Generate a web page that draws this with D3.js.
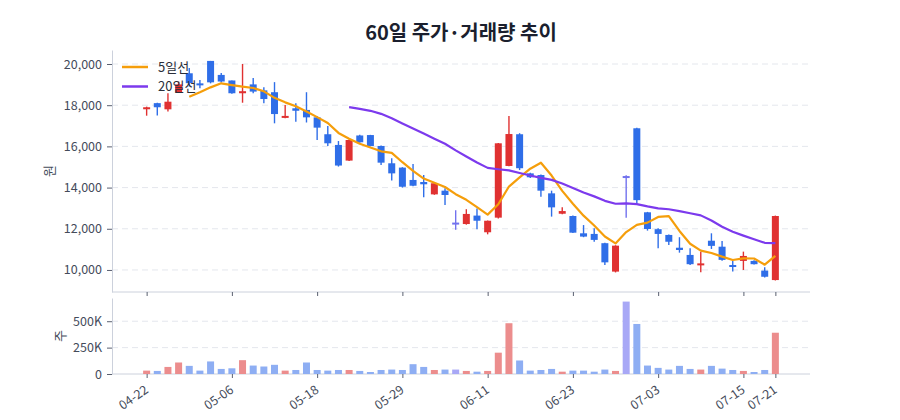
<!DOCTYPE html>
<html><head><meta charset="utf-8">
<script src="https://cdn.jsdelivr.net/npm/d3@7/dist/d3.min.js"></script>
<style>
html,body{margin:0;padding:0;background:#fff;}
svg{display:block;font-family:"Noto Sans CJK KR","Noto Sans",sans-serif;}
</style></head>
<body><svg id="c" width="900" height="420"></svg>
<script>
const dates = ["04-22","04-23","04-24","04-25","04-28","04-29","04-30","05-02","05-06","05-07",
"05-08","05-09","05-12","05-13","05-14","05-15","05-18","05-19","05-20","05-21",
"05-22","05-23","05-26","05-27","05-29","05-30","06-02","06-03","06-04","06-05",
"06-09","06-10","06-11","06-12","06-13","06-16","06-17","06-18","06-19","06-20",
"06-23","06-24","06-25","06-26","06-27","06-30","07-01","07-02","07-03","07-04",
"07-07","07-08","07-09","07-10","07-11","07-14","07-15","07-16","07-17","07-21"];
const tickDates = ["04-22","05-06","05-18","05-29","06-11","06-23","07-03","07-15","07-21"];
const openP = [17850,18100,17800,18620,19550,19060,20150,19470,19200,18580,
19010,18720,18630,17400,17850,17770,17410,16590,16070,15310,
16530,16550,16020,15180,14970,14370,14270,13670,13850,12300,
12230,12640,11830,12540,15050,16590,14690,14610,13720,12730,
12620,11780,11750,11300,9920,14560,16880,12800,11980,11700,
11080,10730,10230,11420,11130,10240,10440,10440,9970,9510];
const closeP = [17900,17900,18170,19010,19070,18970,19110,19150,18580,18680,
18660,18300,17570,17480,17730,17410,16910,16150,15070,16310,
16200,16020,15210,14690,14040,14090,14160,14210,13640,12300,
12720,12390,12390,16150,16600,14940,14500,13850,13040,12860,
11810,11620,11460,10370,11180,14560,13390,11990,11750,11370,
10970,10280,10320,11170,10490,10160,10680,10280,9670,12620];
const highP = [17930,18120,18580,19150,19800,19220,20150,19560,19200,20000,
19320,18870,19120,18010,18100,18630,17480,16990,16260,16330,
16560,16560,16040,15420,14990,15150,14610,14230,13970,12900,
12950,12990,12400,16160,17480,16640,14720,14630,13850,13040,
12640,12180,12020,11320,11200,14600,16900,12820,12020,11720,
11590,11050,10890,11780,11410,10440,10890,10470,10130,12640];
const lowP = [17490,17500,17690,18620,18910,18820,19060,19100,18550,18120,
18580,18090,17120,17370,17200,17160,16310,16020,15020,15290,
16180,16000,15100,14340,14000,14060,13530,13650,13160,11950,
12200,11980,11730,12500,15030,14850,14460,13560,12590,12700,
11790,11590,11370,10240,9880,12540,13240,11910,11050,11210,
10840,10240,9890,11020,10450,9920,10000,10260,9630,9490];
const volume = [32000,29000,67000,109000,77000,32000,119000,48000,54000,131000,
80000,71000,87000,32000,38000,109000,38000,32000,38000,38000,
29000,19000,38000,42000,38000,93000,67000,38000,42000,42000,
29000,22000,29000,202000,481000,128000,32000,38000,48000,22000,
32000,32000,22000,42000,29000,686000,474000,80000,58000,42000,
77000,48000,42000,77000,51000,38000,29000,19000,38000,391000];
const priceTicks = [10000,12000,14000,16000,18000,20000];
const volTicks = [0,250000,500000];
const maPeriods = [5,20];
const maNames = ["5일선","20일선"];
const maColors = ["#f59e0b","#7c3aed"];

const UP="#e03131", DOWN="#2f6ee8", FLAT="#7272ee";
const UPV="#ec8d8d", DOWNV="#8eaef3", FLATV="#a8a8f6";

const svg = d3.select("#c");
const L=112, R=810, PT=50, PB=292, VT=298, VB=374;
const idx = d3.range(dates.length);
const x = d3.scalePoint().domain(idx).range([L,R]).padding(3.25);
const y = d3.scaleLinear().domain([8930,20680]).range([PB,PT]);
const yv = d3.scaleLinear().domain([0,720000]).range([VB,VT]);
const bw = 7;
const col = i => closeP[i]>openP[i]?UP:(closeP[i]<openP[i]?DOWN:FLAT);
const colV = i => closeP[i]>openP[i]?UPV:(closeP[i]<openP[i]?DOWNV:FLATV);

// title
svg.append("text").attr("x",461).attr("y",40).attr("text-anchor","middle")
  .attr("font-size",20).attr("font-weight",700).attr("fill","#1b1f2e").text("60일 주가·거래량 추이");

// gridlines
svg.append("g").selectAll("line").data(priceTicks).join("line")
  .attr("x1",L).attr("x2",R).attr("y1",d=>y(d)).attr("y2",d=>y(d))
  .attr("stroke","#e4e7ed").attr("stroke-dasharray","6,4");
svg.append("g").selectAll("line").data(volTicks.slice(1)).join("line")
  .attr("x1",L).attr("x2",R).attr("y1",d=>yv(d)).attr("y2",d=>yv(d))
  .attr("stroke","#e4e7ed").attr("stroke-dasharray","6,4");

function styleAxis(g){
  g.select(".domain").attr("stroke","#ccd1dc");
  g.selectAll(".tick line").attr("stroke","#5a6070");
  g.selectAll(".tick text").attr("fill","#444b5a").attr("font-size",12.5)
   .attr("font-family","'Noto Sans CJK KR','Noto Sans',sans-serif");
}
// price y axis
const gy = svg.append("g").attr("transform",`translate(${L},0)`)
  .call(d3.axisLeft(y).tickValues(priceTicks).tickFormat(d3.format(",")).tickSize(5).tickPadding(5).tickSizeOuter(0));
styleAxis(gy);
// price x axis (ticks only)
const tickIdx = tickDates.map(t=>dates.indexOf(t));
const gx1 = svg.append("g").attr("transform",`translate(0,${PB})`)
  .call(d3.axisBottom(x).tickValues(tickIdx).tickFormat("").tickSize(4).tickSizeOuter(0));
styleAxis(gx1);
gx1.select(".domain").attr("d",`M${L},0H${R}`);

// volume y axis
const gyv = svg.append("g").attr("transform",`translate(${L},0)`)
  .call(d3.axisLeft(yv).tickValues(volTicks).tickFormat(d=>d===0?"0":(d/1000)+"K").tickSize(5).tickPadding(5).tickSizeOuter(0));
styleAxis(gyv);
const gx2 = svg.append("g").attr("transform",`translate(0,${VB})`)
  .call(d3.axisBottom(x).tickValues(tickIdx).tickFormat(i=>dates[i]).tickSize(4).tickSizeOuter(0));
styleAxis(gx2);
gx2.select(".domain").attr("d",`M${L},0H${R}`);
gx2.selectAll(".tick text").attr("text-anchor","end").attr("dy",0)
  .attr("transform","translate(-2,12) rotate(-35)").attr("font-size",12.5);

// axis labels
svg.append("text").attr("transform",`translate(54,${(PT+PB)/2}) rotate(-90)`).attr("text-anchor","middle")
  .attr("font-size",13).attr("fill","#444b5a").text("원");
svg.append("text").attr("transform",`translate(65,${(VT+VB)/2}) rotate(-90)`).attr("text-anchor","middle")
  .attr("font-size",13).attr("fill","#444b5a").text("주");

// volume bars
svg.append("g").selectAll("rect").data(idx).join("rect")
  .attr("x",i=>x(i)-bw/2).attr("width",bw)
  .attr("y",i=>yv(volume[i])).attr("height",i=>VB-yv(volume[i]))
  .attr("fill",colV);

// candles
const cg = svg.append("g");
cg.selectAll("line").data(idx).join("line")
  .attr("x1",i=>x(i)).attr("x2",i=>x(i)).attr("y1",i=>y(highP[i])).attr("y2",i=>y(lowP[i]))
  .attr("stroke",col).attr("stroke-width",1.4);
cg.selectAll("rect").data(idx).join("rect")
  .attr("x",i=>x(i)-bw/2).attr("width",bw)
  .attr("y",i=>y(Math.max(openP[i],closeP[i])))
  .attr("height",i=>Math.max(2,Math.abs(y(openP[i])-y(closeP[i]))))
  .attr("fill",col);

// moving averages
maPeriods.forEach((p,k)=>{
  const pts = idx.filter(i=>i>=p-1).map(i=>[i,d3.mean(closeP.slice(i-p+1,i+1))]);
  svg.append("path").datum(pts)
    .attr("d",d3.line().x(d=>x(d[0])).y(d=>y(d[1])))
    .attr("fill","none").attr("stroke",maColors[k]).attr("stroke-width",2.2)
    .attr("stroke-linejoin","round");
});

// legend
maNames.forEach((n,k)=>{
  const yy = 67+k*19.5;
  svg.append("line").attr("x1",122).attr("x2",148).attr("y1",yy).attr("y2",yy)
    .attr("stroke",maColors[k]).attr("stroke-width",2.5);
  svg.append("text").attr("x",158).attr("y",yy+4.5).attr("font-size",13).attr("fill","#2a2f3a").text(n);
});
</script></body></html>
